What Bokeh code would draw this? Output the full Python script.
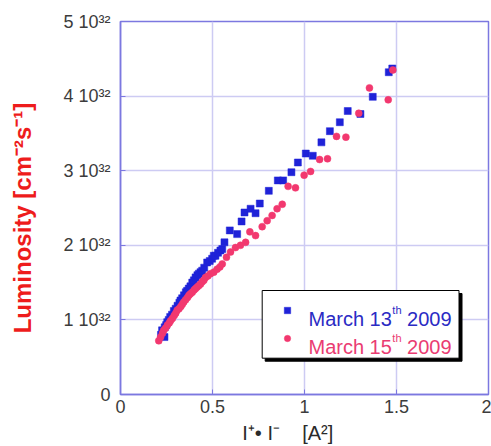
from bokeh.plotting import figure
from bokeh.models import (Range1d, FixedTicker, Label, BoxAnnotation, Legend, LegendItem)
from bokeh.embed import file_html
from bokeh.resources import INLINE

# ---------------- data (luminosity in units of 1e32 cm^-2 s^-1) ----------------
x_mar13 = [0.220, 0.226, 0.239, 0.240, 0.248, 0.254, 0.262, 0.270, 0.280, 0.290,
           0.300, 0.310, 0.320, 0.326, 0.335, 0.345, 0.355, 0.362, 0.371, 0.380,
           0.390, 0.399, 0.408, 0.418, 0.426, 0.435, 0.444, 0.455, 0.471, 0.485,
           0.498, 0.507, 0.516, 0.530, 0.543, 0.553, 0.565, 0.594, 0.634, 0.658,
           0.674, 0.707, 0.734, 0.757, 0.806, 0.855, 0.884, 0.929, 0.964, 1.007,
           1.045, 1.092, 1.138, 1.192, 1.235, 1.304, 1.371, 1.458, 1.477]
y_mar13 = [0.80, 0.86, 0.77, 0.90, 0.93, 0.97, 1.00, 1.04, 1.07, 1.12,
           1.15, 1.19, 1.23, 1.26, 1.29, 1.33, 1.37, 1.39, 1.42, 1.45,
           1.50, 1.53, 1.57, 1.60, 1.62, 1.64, 1.66, 1.70, 1.77, 1.79,
           1.82, 1.86, 1.86, 1.90, 1.93, 1.95, 2.04, 2.20, 2.15, 2.32,
           2.44, 2.49, 2.43, 2.56, 2.73, 2.87, 2.87, 2.98, 3.11, 3.23,
           3.20, 3.38, 3.53, 3.65, 3.80, 3.76, 3.99, 4.32, 4.37]

x_mar15 = [0.208, 0.218, 0.228, 0.235, 0.245, 0.255, 0.265, 0.272, 0.282, 0.292,
           0.300, 0.308, 0.318, 0.328, 0.336, 0.344, 0.354, 0.364, 0.372, 0.380,
           0.390, 0.400, 0.408, 0.417, 0.426, 0.435, 0.444, 0.453, 0.462, 0.475,
           0.489, 0.507, 0.525, 0.540, 0.553, 0.576, 0.598, 0.625, 0.652, 0.680,
           0.703, 0.734, 0.770, 0.797, 0.824, 0.851, 0.879, 0.911, 0.951, 0.998,
           1.033, 1.082, 1.125, 1.174, 1.225, 1.295, 1.353, 1.455, 1.480]
y_mar15 = [0.72, 0.77, 0.82, 0.86, 0.89, 0.93, 0.96, 0.99, 1.02, 1.06,
           1.09, 1.13, 1.15, 1.18, 1.21, 1.24, 1.27, 1.30, 1.33, 1.35,
           1.37, 1.40, 1.42, 1.44, 1.46, 1.48, 1.51, 1.53, 1.57, 1.59,
           1.62, 1.64, 1.68, 1.71, 1.75, 1.84, 1.91, 1.97, 2.00, 2.04,
           2.18, 2.13, 2.25, 2.33, 2.40, 2.49, 2.55, 2.79, 2.77, 2.94,
           2.99, 3.15, 3.16, 3.46, 3.45, 3.77, 4.11, 3.95, 4.35]

x_ticks = [0, 0.5, 1, 1.5, 2]
x_tick_labels = ["0", "0.5", "1", "1.5", "2"]
y_ticks = [0, 1, 2, 3, 4, 5]
y_tick_labels = ["0", "1 10\u00b3\u00b2", "2 10\u00b3\u00b2", "3 10\u00b3\u00b2",
                 "4 10\u00b3\u00b2", "5 10\u00b3\u00b2"]

NBSP = "\u00a0"
x_title = "I\u207a\u2022 I\u207b" + NBSP * 4 + "[A\u00b2]" + NBSP * 6
y_title = "Luminosity [cm\u207b\u00b2s\u207b\u00b9]" + NBSP * 3

# ---------------- style ----------------
AXIS_C = "#7c78e0"
GRID_C = "#cdcbf3"
BLUE = "#1f22d8"
PINK = "#f2386f"
BLUE_TXT = "#2b2bc4"
PINK_TXT = "#ea3c72"
TICK_C = "#3c3c3c"
FONT = "Liberation Sans"

# Arial / Liberation Sans advance widths (per em)
W_REG = {" ": .278, "0": .556, "1": .556, "2": .556, "3": .556, "5": .556, "9": .556,
         "M": .833, "a": .556, "r": .333, "c": .5, "h": .556, "t": .278}


def text_width(t, size):
    return sum(W_REG.get(ch, .556) for ch in t) * size


p = figure(width=491, height=446, output_backend="svg", toolbar_location=None,
           x_range=Range1d(0, 2), y_range=Range1d(0, 5),
           min_border_left=120, min_border_right=3, min_border_top=21,
           min_border_bottom=52)
p.background_fill_color = "white"
p.border_fill_color = "white"
p.outline_line_color = AXIS_C
p.outline_line_width = 1.5

for ax in (p.xaxis, p.yaxis):
    ax.axis_line_color = AXIS_C
    ax.axis_line_width = 1.5
    ax.major_tick_line_color = AXIS_C
    ax.major_tick_in = 5
    ax.major_tick_out = 0
    ax.minor_tick_line_color = None
    ax.major_label_text_font = FONT
    ax.major_label_text_font_size = "18px"
    ax.major_label_text_color = TICK_C

p.xaxis.ticker = FixedTicker(ticks=x_ticks)
p.xaxis.major_label_overrides = dict(zip(x_ticks, x_tick_labels))
p.xaxis.major_label_standoff = 5
p.xaxis.axis_label = x_title
p.xaxis.axis_label_text_font = FONT
p.xaxis.axis_label_text_font_size = "20px"
p.xaxis.axis_label_text_font_style = "normal"
p.xaxis.axis_label_text_color = "#2a2a2a"
p.xaxis.axis_label_standoff = 6

p.yaxis.ticker = FixedTicker(ticks=y_ticks)
p.yaxis.major_label_overrides = dict(zip(y_ticks, y_tick_labels))
p.yaxis.major_label_standoff = 10
p.yaxis.axis_label = y_title
p.yaxis.axis_label_text_font = FONT
p.yaxis.axis_label_text_font_size = "24px"
p.yaxis.axis_label_text_font_style = "bold"
p.yaxis.axis_label_text_color = "#ee1c1c"
p.yaxis.axis_label_standoff = 24

p.grid.grid_line_color = GRID_C
p.grid.grid_line_width = 1.5

r13 = p.scatter(x_mar13, y_mar13, marker="square", size=7, fill_color=BLUE,
                line_color=BLUE, line_width=0.5)
r15 = p.scatter(x_mar15, y_mar15, marker="circle", size=7, fill_color=PINK,
                line_color=PINK, line_width=0.5)

# ---------------- legend box with shadow ----------------
shadow = BoxAnnotation(left=144.7, right=341.5, top=101, bottom=33.3,
                       left_units="screen", right_units="screen",
                       top_units="screen", bottom_units="screen",
                       fill_color="black", fill_alpha=1, line_color="black",
                       line_alpha=1, line_width=1)
box = BoxAnnotation(left=141.7, right=338.5, top=104, bottom=36.3,
                    left_units="screen", right_units="screen",
                    top_units="screen", bottom_units="screen",
                    fill_color="white", fill_alpha=1, line_color="black",
                    line_alpha=1, line_width=1)
p.add_layout(shadow)
p.add_layout(box)

for rend, loc in ((r13, (158.7, 76)), (r15, (158.7, 47.7))):
    lg = Legend(items=[LegendItem(label=" ", renderers=[rend])], location=loc,
                padding=0, margin=0, spacing=0, glyph_width=16, glyph_height=16,
                label_height=16, label_width=1, label_standoff=0,
                label_text_font_size="1px", background_fill_alpha=0,
                border_line_alpha=0)
    p.add_layout(lg)


def hpieces(pieces, x0, y0, color):
    x = x0
    for t, size, rise, gap in pieces:
        x += gap
        p.add_layout(Label(x=x, y=y0 + rise, x_units="screen", y_units="screen",
                           text=t, text_font=FONT, text_font_size=f"{size}px",
                           text_color=color, text_align="left",
                           text_baseline="alphabetic"))
        x += text_width(t, size)


sp = text_width(" ", 20)
hpieces([("March 13", 20, 0, 0), ("th", 11, 9, 0.5), ("2009", 20, 0, sp)],
        188, 75.7, BLUE_TXT)
hpieces([("March 15", 20, 0, 0), ("th", 11, 9, 0.5), ("2009", 20, 0, sp)],
        188, 47.3, PINK_TXT)

open("out.html", "w").write(file_html(p, INLINE))
